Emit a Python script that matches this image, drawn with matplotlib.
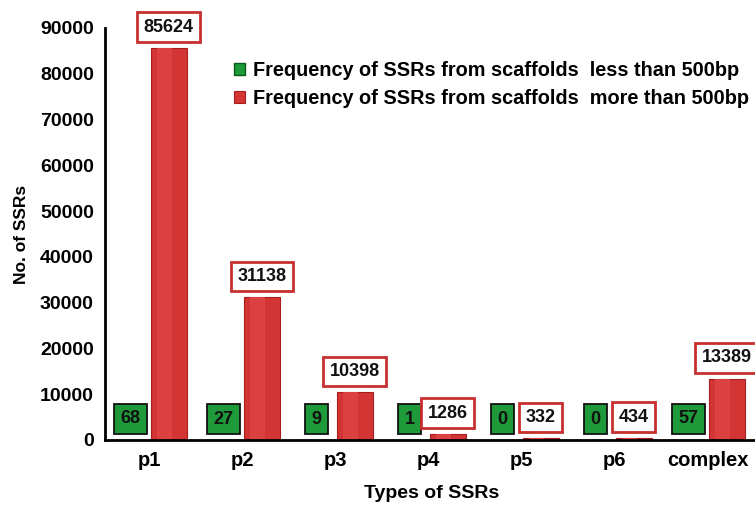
import matplotlib
matplotlib.use("Agg")
import matplotlib.pyplot as plt
import numpy as np

categories = ["p1", "p2", "p3", "p4", "p5", "p6", "complex"]
less_500 = [68, 27, 9, 1, 0, 0, 57]
more_500 = [85624, 31138, 10398, 1286, 332, 434, 13389]
yticks = [0, 10000, 20000, 30000, 40000, 50000, 60000, 70000, 80000, 90000]
legend_labels = ["Frequency of SSRs from scaffolds  less than 500bp",
                 "Frequency of SSRs from scaffolds  more than 500bp"]

plt.rcParams['font.family'] = ['Liberation Sans', 'DejaVu Sans']
plt.rcParams['font.weight'] = 'bold'

fig = plt.figure(figsize=(7.55, 5.08), dpi=100)
ax = fig.add_axes([105/755, (508-440)/508, 660/755, 412/508])

x = np.arange(len(categories))
w = 0.385
off = 0.205
green = "#1f9a3a"
red = "#d33535"

b1 = ax.bar(x - off, less_500, w, color=green, edgecolor="#0b5a1c", label=legend_labels[0])
b2 = ax.bar(x + off, more_500, w, color=red, edgecolor="#a81e1e", linewidth=0.8, label=legend_labels[1])

# subtle highlight on red bars
for xi, v in zip(x, more_500):
    ax.bar(xi + off - w*0.12, v, w*0.4, color="#dc4141", linewidth=0)

for xi, v in zip(x, less_500):
    ax.annotate(str(v), (xi - off, v), xytext=(0, 15), textcoords="offset points",
                ha="center", va="center", fontsize=13, fontweight="bold", color="#111111",
                bbox=dict(boxstyle="square,pad=0.35", facecolor=green, edgecolor="#111111", linewidth=1.3))
for xi, v in zip(x, more_500):
    ax.annotate(str(v), (xi + off, v), xytext=(0, 15), textcoords="offset points",
                ha="center", va="center", fontsize=13, fontweight="bold", color="#111111",
                bbox=dict(boxstyle="square,pad=0.35", facecolor="white", edgecolor="#c83030", linewidth=2))

ax.set_xlim(-0.48, -0.48 + 660/93)
ax.set_ylim(0, 90000)
ax.set_yticks(yticks)
ax.set_yticklabels([str(t) for t in yticks], fontsize=14, fontweight="bold")
ax.set_xticks(x)
ax.set_xticklabels(categories, fontsize=14.5, fontweight="bold")
ax.tick_params(axis="both", length=0, pad=8)
ax.tick_params(axis="x", pad=8)
for s in ["top", "right"]:
    ax.spines[s].set_visible(False)
ax.spines["left"].set_linewidth(2)
ax.spines["bottom"].set_linewidth(2)

ax.set_ylabel("No. of SSRs", fontsize=12.5, fontweight="bold", labelpad=8)
fig.text(432/755, 1 - 494/508, "Types of SSRs", ha="center", va="center", fontsize=14, fontweight="bold")

leg = ax.legend(handles=[b1, b2], loc="upper left", bbox_to_anchor=(234/755, 1 - 61/508),
                bbox_transform=fig.transFigure, frameon=False, fontsize=14.3,
                handlelength=0.55, handleheight=0.55, handletextpad=0.4, labelspacing=0.45,
                borderaxespad=0, borderpad=0)

fig.savefig("out.png", dpi=100)
